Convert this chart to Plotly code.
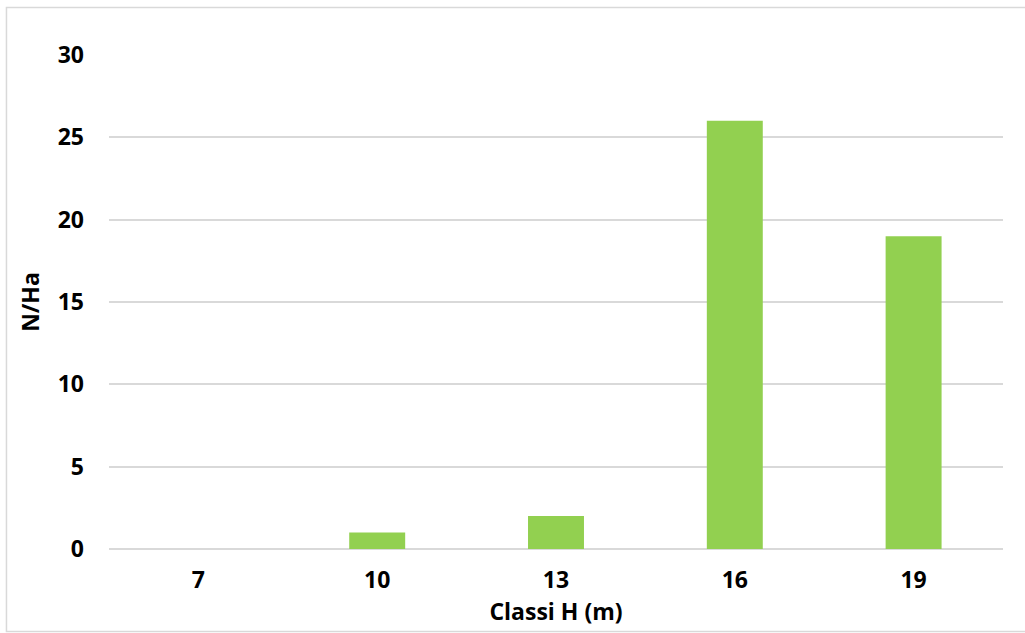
import plotly.graph_objects as go

# Height classes (m) and stem density per hectare
classi_h = ["7", "10", "13", "16", "19"]
n_ha = [0, 1, 2, 26, 19]
y_ticks = [0, 5, 10, 15, 20, 25, 30]

FONT = "Open Sans"
SIZE = 23
GRID = "#D9D9D9"
BAR = "#92D050"

fig = go.Figure(
    go.Bar(
        x=classi_h,
        y=n_ha,
        marker=dict(color=BAR, line=dict(width=0)),
        hoverinfo="x+y",
    )
)

fig.update_layout(
    width=1025,
    height=633,
    margin=dict(l=109, r=22, t=55, b=84),
    paper_bgcolor="white",
    plot_bgcolor="white",
    bargap=0.687,
    showlegend=False,
    font=dict(family=FONT, size=SIZE, color="#000000"),
    shapes=[
        # chart frame
        dict(
            type="rect",
            xref="paper",
            yref="paper",
            x0=-0.1147,
            x1=1.03,
            y0=-0.167,
            y1=1.096,
            line=dict(color=GRID, width=1.5),
            fillcolor="rgba(0,0,0,0)",
            layer="below",
        )
    ],
)

fig.update_xaxes(
    type="category",
    showgrid=False,
    showline=False,
    zeroline=False,
    ticks="",
    tickfont=dict(family=FONT, size=SIZE, color="#000000", weight="bold"),
    ticklabelstandoff=15,
    title=dict(
        text="Classi H (m)",
        font=dict(family=FONT, size=SIZE, color="#000000", weight="bold"),
        standoff=2,
    ),
)

fig.update_yaxes(
    range=[0, 30],
    tickvals=y_ticks,
    showgrid=True,
    gridcolor=GRID,
    gridwidth=1.5,
    zeroline=True,
    zerolinecolor=GRID,
    zerolinewidth=1.5,
    showline=False,
    ticks="",
    tickfont=dict(family=FONT, size=SIZE, color="#000000", weight="bold"),
    ticklabelstandoff=24,
    title=dict(
        text="N/Ha",
        font=dict(family=FONT, size=SIZE, color="#000000", weight="bold"),
        standoff=11,
    ),
)

fig.write_html("out.html")
